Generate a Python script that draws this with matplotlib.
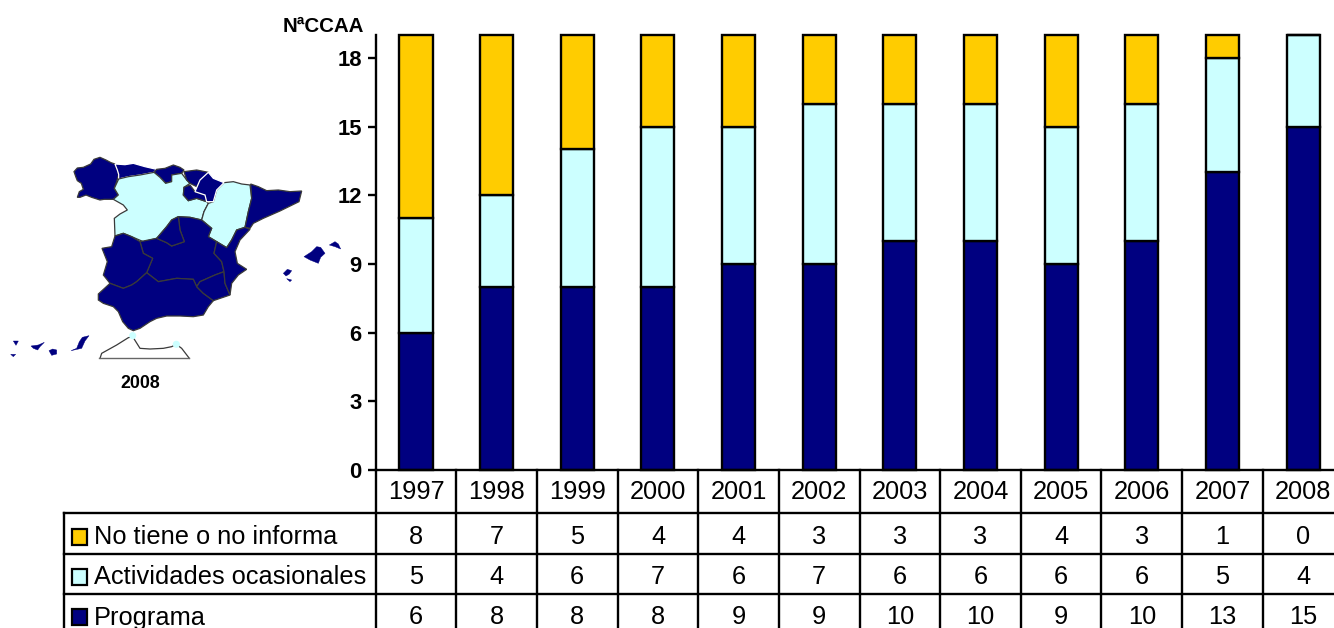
import matplotlib
matplotlib.use("Agg")
import matplotlib.pyplot as plt
from matplotlib.patches import Polygon, Rectangle, Circle
from matplotlib.transforms import blended_transform_factory

plt.rcParams['font.family'] = ['Liberation Sans', 'DejaVu Sans']

years = [1997, 1998, 1999, 2000, 2001, 2002, 2003, 2004, 2005, 2006, 2007, 2008]
programa = [6, 8, 8, 8, 9, 9, 10, 10, 9, 10, 13, 15]
actividades = [5, 4, 6, 7, 6, 7, 6, 6, 6, 6, 5, 4]
no_tiene = [8, 7, 5, 4, 4, 3, 3, 3, 4, 3, 1, 0]
series_names = ['No tiene o no informa', 'Actividades ocasionales', 'Programa']
NAVY, LIGHT, GOLD = '#000080', '#CCFFFF', '#FFCC00'

W, H = 1334, 628
fig = plt.figure(figsize=(W / 100, H / 100), dpi=100, facecolor='white')

# main chart
L, R, T, B = 375.7, 375.7 + 80.64 * 12, 35, 470
ax = fig.add_axes([L / W, (H - B) / H, (R - L) / W, (B - T) / H])
xs = list(range(len(years)))
lw = 1.7
bottom2 = [a + b for a, b in zip(programa, actividades)]
for vals, base, col in ((programa, None, NAVY), (actividades, programa, LIGHT), (no_tiene, bottom2, GOLD)):
    bars = ax.bar(xs, vals, width=0.41, bottom=base, color=col, edgecolor='black', linewidth=lw)
    for b in bars:
        b.set_clip_on(False)
ax.set_xlim(-0.5, 11.5)
ax.set_ylim(0, 19)
ax.set_yticks(range(0, 19, 3))
ax.set_xticks([])
ax.tick_params(axis='y', length=6, width=lw, pad=4)
for t in ax.get_yticklabels():
    t.set_fontsize(15.8)
    t.set_fontweight('bold')
for s in ('top', 'right'):
    ax.spines[s].set_visible(False)
for s in ('left', 'bottom'):
    ax.spines[s].set_linewidth(lw)
ax.patch.set_alpha(0)

# overlay in pixel coordinates
ov = fig.add_axes([0, 0, 1, 1], zorder=3)
ov.set_xlim(0, W)
ov.set_ylim(H, 0)
ov.axis('off')
ov.patch.set_alpha(0)

ov.text(323, 26, 'NªCCAA', ha='center', va='center', fontsize=14.8, fontweight='bold')

# data table
col_tf = blended_transform_factory(ax.transData, ov.transData)
row_y = [537.5, 577.5, 617.5]
row_vals = [no_tiene, actividades, programa]
row_cols = [GOLD, LIGHT, NAVY]
for i, y in enumerate(years):
    ov.text(i, 492, str(y), transform=col_tf, ha='center', va='center', fontsize=18.3)
    for ry, vals in zip(row_y, row_vals):
        ov.text(i, ry, str(vals[i]), transform=col_tf, ha='center', va='center', fontsize=18.3)
for i in range(len(years) + 1):
    ov.plot([i - 0.5, i - 0.5], [470, H], transform=col_tf, color='black', lw=lw, clip_on=False)
for y in (513, 554, 594):
    ov.plot([64, W], [y, y], color='black', lw=lw)
ov.plot([64, 64], [513, H], color='black', lw=lw)
for name, ry, c in zip(series_names, [536.5, 576.5, 616.5], row_cols):
    ov.add_patch(Rectangle((71.5, ry - 8), 15, 16, facecolor=c, edgecolor='black', lw=1.6))
    ov.text(94, ry + 1, name, ha='left', va='center', fontsize=18.3)

def P(pts):
    return [(x / 3, 140 + y / 3) for x, y in pts]

GREY = '#3a3a3a'
regions = [
    # Galicia
    ([(222,95),(232,84),(250,82),(272,72),(282,58),(300,52),(318,60),(333,68),(345,72),(352,90),(356,103),(350,125),(343,145),(355,165),(340,178),(312,178),(300,180),(275,172),(258,165),(240,172),(232,172),(238,155),(250,148),(244,130),(232,122),(228,112)], NAVY, GREY),
    # Asturias
    ([(345,72),(375,74),(400,70),(435,80),(470,88),(462,97),(420,105),(385,110),(356,117),(356,103),(352,90)], NAVY, 'white'),
    # Cantabria
    ([(462,97),(470,88),(495,85),(520,75),(540,82),(552,90),(545,100),(515,105),(515,125),(497,130),(480,112)], NAVY, GREY),
    # Castilla y Leon
    ([(356,117),(385,110),(420,105),(462,97),(480,112),(497,130),(515,125),(515,105),(545,100),(560,120),(570,130),(552,142),(550,165),(565,182),(590,175),(620,185),(625,190),(612,215),(605,240),(570,232),(535,230),(515,240),(500,260),(470,295),(430,305),(395,290),(370,280),(345,288),(343,235),(360,222),(382,210),(370,195),(340,178),(355,165),(343,145)], LIGHT, GREY),
    # Aragon
    ([(672,128),(700,125),(725,132),(750,135),(755,175),(745,215),(735,262),(710,270),(695,300),(680,323),(650,305),(625,290),(635,265),(605,240),(612,215),(625,190),(640,185),(650,150)], LIGHT, GREY),
    # Pais Vasco
    ([(552,95),(590,90),(625,97),(600,125),(590,140),(570,130),(560,120)], NAVY, GREY),
    # La Rioja
    ([(552,142),(570,135),(585,155),(615,165),(620,185),(590,175),(565,182),(550,165)], NAVY, GREY),
    # Navarra
    ([(625,97),(640,115),(672,128),(650,150),(640,185),(620,185),(615,165),(585,155),(600,120)], NAVY, 'white'),
    # Cataluna
    ([(752,132),(775,140),(800,152),(835,150),(870,155),(905,153),(897,185),(840,213),(790,235),(760,250),(750,265),(735,262),(745,215),(755,175)], NAVY, GREY),
    # Castilla-La Mancha
    ([(420,305),(470,295),(500,308),(515,318),(553,305),(540,270),(535,230),(570,232),(605,240),(635,265),(625,290),(650,305),(642,340),(665,365),(672,395),(645,405),(600,425),(590,440),(580,418),(530,415),(475,425),(440,398),(458,355),(430,340)], NAVY, GREY),
    # Madrid
    ([(470,295),(500,260),(515,240),(535,230),(540,270),(553,305),(515,318),(500,308)], NAVY, GREY),
    # Extremadura
    ([(345,288),(370,280),(395,290),(420,305),(430,340),(458,355),(440,398),(410,425),(395,435),(370,445),(330,430),(310,405),(322,365),(306,325),(335,320)], NAVY, GREY),
    # Andalucia
    ([(330,430),(370,445),(395,435),(410,425),(440,398),(475,425),(530,415),(580,418),(590,440),(610,460),(640,482),(625,500),(610,525),(580,530),(540,528),(500,528),(470,535),(450,545),(420,565),(400,572),(385,565),(368,545),(355,515),(340,500),(310,490),(295,480),(295,462)], NAVY, GREY),
    # Murcia
    ([(590,440),(600,425),(645,405),(672,395),(675,430),(690,465),(640,482),(610,460)], NAVY, GREY),
    # Valencia
    ([(735,262),(750,268),(720,300),(705,335),(712,370),(740,388),(715,405),(695,430),(690,465),(675,430),(672,395),(665,365),(642,340),(650,305),(680,323),(695,300),(710,270)], NAVY, GREY),
]
for pts, fc, ec in regions:
    ov.add_patch(Polygon(P(pts), closed=True, facecolor=fc, edgecolor=ec, lw=0.9))

islands = [
    [(912,350),(935,335),(950,320),(962,322),(975,340),(962,352),(955,370),(930,360)],
    [(988,315),(1005,305),(1015,312),(1022,327),(1005,320)],
    [(850,400),(862,388),(875,392),(868,402),(858,408)],
    [(860,416),(875,420),(870,425)],
    [(213,632),(230,625),(238,605),(247,592),(267,587),(255,603),(245,625)],
    [(147,632),(158,627),(170,630),(170,642),(155,646)],
    [(93,618),(115,615),(133,607),(120,620),(113,630),(100,625)],
    [(40,603),(55,603),(48,616)],
    [(32,643),(47,643),(40,650)],
]
for pts in islands:
    ov.add_patch(Polygon(P(pts), closed=True, facecolor=NAVY, edgecolor=NAVY, lw=0.3))

# Ceuta / Melilla inset
curve = P([(300,655),(305,640),(350,615),(385,593),(398,590),(420,625),(450,627),(490,625),(515,620),(529,613),(545,625),(568,655)])
ov.plot([p[0] for p in curve], [p[1] for p in curve], color=GREY, lw=0.9)
base = P([(298,655),(568,655)])
ov.plot([p[0] for p in base], [p[1] for p in base], color='#666666', lw=1.0)
for c in P([(398,587),(529,613)]):
    ov.add_patch(Circle(c, 3.6, facecolor=LIGHT, edgecolor='none', zorder=5))

ov.text(140, 383, '2008', ha='center', va='center', fontsize=12.8, fontweight='bold')

fig.savefig('out.png', dpi=100)
